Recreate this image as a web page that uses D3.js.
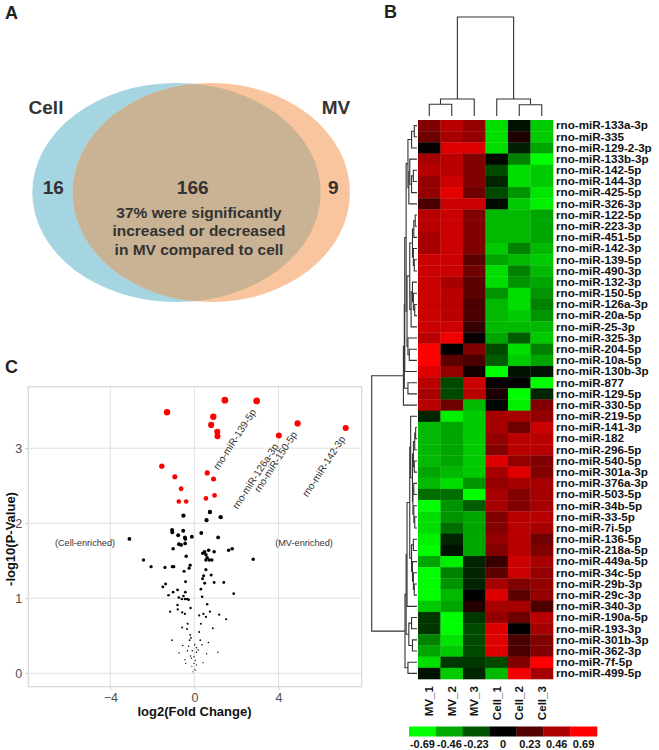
<!DOCTYPE html>
<html><head><meta charset="utf-8">
<script src="https://cdn.jsdelivr.net/npm/d3@7"></script>
<style>body{margin:0;background:#fff}svg{display:block;font-family:"Liberation Sans",Arial,Helvetica,sans-serif}</style>
</head><body><svg id="c" width="659" height="750"></svg>
<script>
// ---------- Panel A: Venn ----------
const vennSets = ["Cell", "MV"];
const vennCounts = [16, 166, 9];
const vennNote = ["37% were significantly", "increased or decreased", "in MV compared to cell"];

// ---------- Panel B: heatmap ----------
const samples = ["MV_1","MV_2","MV_3","Cell_1","Cell_2","Cell_3"];
const mirnas = ["rno-miR-133a-3p","rno-miR-335","rno-miR-129-2-3p","rno-miR-133b-3p","rno-miR-142-5p","rno-miR-144-3p","rno-miR-425-5p","rno-miR-326-3p","rno-miR-122-5p","rno-miR-223-3p","rno-miR-451-5p","rno-miR-142-3p","rno-miR-139-5p","rno-miR-490-3p","rno-miR-132-3p","rno-miR-150-5p","rno-miR-126a-3p","rno-miR-20a-5p","rno-miR-25-3p","rno-miR-325-3p","rno-miR-204-5p","rno-miR-10a-5p","rno-miR-130b-3p","rno-miR-877","rno-miR-129-5p","rno-miR-330-5p","rno-miR-219-5p","rno-miR-141-3p","rno-miR-182","rno-miR-296-5p","rno-miR-540-5p","rno-miR-301a-3p","rno-miR-376a-3p","rno-miR-503-5p","rno-miR-34b-5p","rno-miR-33-5p","rno-miR-7i-5p","rno-miR-136-5p","rno-miR-218a-5p","rno-miR-449a-5p","rno-miR-34c-5p","rno-miR-29b-3p","rno-miR-29c-3p","rno-miR-340-3p","rno-miR-190a-5p","rno-miR-193-3p","rno-miR-301b-3p","rno-miR-362-3p","rno-miR-7f-5p","rno-miR-499-5p"];
const heat = [
[0.35,0.5,0.4,-0.6,-0.05,-0.55],
[0.3,0.45,0.4,-0.6,0.08,-0.55],
[0.02,0.6,0.6,-0.6,-0.08,-0.45],
[0.45,0.5,0.35,-0.03,-0.35,-0.69],
[0.5,0.5,0.35,-0.2,-0.6,-0.55],
[0.4,0.55,0.35,-0.1,-0.6,-0.55],
[0.4,0.62,0.3,-0.2,-0.4,-0.62],
[0.2,0.55,0.55,-0.03,-0.55,-0.65],
[0.5,0.55,0.35,-0.5,-0.5,-0.45],
[0.5,0.55,0.35,-0.5,-0.5,-0.45],
[0.45,0.55,0.35,-0.5,-0.5,-0.45],
[0.45,0.55,0.35,-0.55,-0.35,-0.5],
[0.55,0.55,0.25,-0.45,-0.5,-0.55],
[0.55,0.55,0.3,-0.6,-0.35,-0.5],
[0.55,0.45,0.25,-0.6,-0.4,-0.45],
[0.55,0.5,0.25,-0.4,-0.6,-0.4],
[0.55,0.5,0.2,-0.5,-0.6,-0.35],
[0.55,0.5,0.2,-0.5,-0.55,-0.4],
[0.55,0.55,0.15,-0.5,-0.5,-0.5],
[0.5,0.65,0.02,-0.45,-0.25,-0.55],
[0.69,0,0.35,-0.2,-0.6,-0.35],
[0.69,0.25,0.2,-0.25,-0.55,-0.45],
[0.6,0.4,0.05,-0.69,-0.05,-0.05],
[0.5,-0.2,0.55,0.02,0,-0.69],
[0.45,-0.2,0.5,0.08,-0.69,-0.1],
[0.5,0.3,-0.5,-0.02,-0.65,0.35],
[-0.1,-0.65,-0.55,0.45,0.45,0.4],
[-0.5,-0.45,-0.55,0.45,0.3,0.55],
[-0.5,-0.45,-0.55,0.4,0.5,0.5],
[-0.5,-0.45,-0.55,0.35,0.5,0.5],
[-0.5,-0.45,-0.55,0.6,0.4,0.35],
[-0.45,-0.5,-0.55,0.45,0.6,0.35],
[-0.5,-0.6,-0.4,0.4,0.45,0.45],
[-0.3,-0.3,-0.69,0.45,0.35,0.45],
[-0.69,-0.4,-0.25,0.45,0.35,0.45],
[-0.6,-0.4,-0.45,0.35,0.5,0.5],
[-0.6,-0.3,-0.45,0.35,0.5,0.45],
[-0.65,-0.1,-0.45,0.4,0.5,0.3],
[-0.69,-0.05,-0.45,0.35,0.5,0.35],
[-0.45,-0.65,-0.1,0.15,0.55,0.45],
[-0.69,-0.35,-0.1,0.25,0.55,0.4],
[-0.69,-0.4,-0.1,0.45,0.35,0.4],
[-0.69,-0.5,0,0.6,0.25,0.4],
[-0.55,-0.45,0.1,0.45,0.45,0.2],
[-0.15,-0.69,-0.15,0.4,0.3,0.5],
[-0.15,-0.69,-0.2,0.6,0,0.45],
[-0.35,-0.62,-0.2,0.6,0.2,0.35],
[-0.45,-0.55,-0.2,0.6,0.2,0.35],
[-0.6,-0.15,-0.15,-0.2,0.35,0.69],
[-0.05,-0.55,-0.1,-0.5,0.65,0.45]
];
const legendTicks = [-0.69,-0.46,-0.23,0,0.23,0.46,0.69];
// column dendrogram: [height, left, right]; leaves = sample index
const colTree = [1, [0.172, [0.118, 0, 1], 2], [0.172, 3, [0.113, 4, 5]]];
// row dendrogram: [height, left, right]; leaves = row number (1-based)
const rowTree = [1,
  [0.3,
    [0.28,
      [0.27,
        [0.24,
          [0.2, [0.12,[0.06,1,2],3], [0.18,[0.16,4,[0.12,[0.08,5,6],7]],8]],
          [0.22, [0.16, [0.1,[0.07,[0.04,9,10],11],[0.08,12,[0.06,13,14]]], [0.13,[0.1,15,[0.08,16,[0.05,17,18]]],19]], [0.2,20,[0.17,21,22]]]],
        23],
      [0.2, 24, 25]],
    26],
  [0.265,
    [0.24,
      [0.22,
        [0.16, [0.14, 27, [0.1,[0.08,[0.05,[0.03,28,29],30],[0.06,31,32]],[0.09,[0.07,33,34],[0.07,35,[0.05,36,37]]]]],
               [0.12,[0.08,38,39],[0.1,40,[0.08,41,[0.06,42,43]]]]],
        44],
      [0.18,[0.12,45,46],[0.1,47,48]]],
    [0.2,49,50]]];

// ---------- Panel C: volcano ----------
const sigFC = [1.45,2.96,-1.30,0.90,0.80,1.09,1.10,4.02,4.91,7.20,-1.55,-0.93,0.61,0.91,-0.63,-0.74,-0.39,0.96,0.55];
const sigP  = [3.64,3.63,3.48,3.42,3.31,3.22,3.16,3.17,3.33,3.27,2.76,2.62,2.67,2.59,2.46,2.29,2.29,2.37,2.33];
const nsFC = [0.74,-0.52,1.25,0.58,-1.06,-1.05,-0.53,-0.77,0.33,-0.12,-0.45,-0.43,1.13,-3.09,-0.74,-0.63,-0.44,-1.01,1.63,1.80,0.68,0.49,0.40,0.94,0.55,0.61,0.71,0.83,0.55,-0.39,2.80,-2.42,-2.06,-1.40,-1.05,-0.98,-0.20,-0.25,-0.49,0.55,0.39,0.44,0.80,-1.37,-1.50,-0.42,0.49,0.94,1.40,-1.01,-0.80,-0.43,0.31,-1.23,-0.74,-0.52,-0.45,-0.34,-0.27,-0.60,0.37,1.87,0.61,-0.80,-0.79,-0.18,-1.15,-0.58,-0.45,0.23,0.43,0.74,0.55,1.18,1.51,-0.32,0.31,-0.58,-0.35,0.88,0.23,-1.06,-0.20,-0.16,-0.23,0.67,0.28,0.02,-0.55,-0.27,0.10,0.36,-0.33,-0.10,0.10,0.18,0.58,-0.73,1.12,-0.18,-0.02,-0.45,-0.14,0.04,-0.02,0.10,-0.12,0.02,-0.07,0.05,-0.41,0.41];
const nsP  = [2.15,2.10,2.08,2.04,1.91,1.88,1.90,1.84,1.87,1.82,1.81,1.79,1.81,1.79,1.72,1.71,1.73,1.66,1.64,1.66,1.64,1.62,1.60,1.62,1.58,1.54,1.51,1.51,1.51,1.56,1.52,1.51,1.42,1.41,1.42,1.42,1.44,1.40,1.36,1.38,1.26,1.30,1.31,1.19,1.15,1.22,1.20,1.21,1.21,1.08,1.11,1.08,1.12,1.04,1.01,1.03,0.99,0.99,0.98,0.99,1.02,1.06,0.92,0.91,0.85,0.87,0.82,0.81,0.79,0.77,0.79,0.82,0.75,0.78,0.72,0.66,0.66,0.61,0.59,0.60,0.55,0.44,0.51,0.47,0.44,0.41,0.44,0.38,0.37,0.36,0.34,0.38,0.30,0.30,0.28,0.31,0.26,0.27,0.28,0.23,0.22,0.18,0.20,0.17,0.13,0.11,0.09,0.05,0.02,0.04,0.13,0.14];
const labelNames = ["rno-miR-139-5p","rno-miR-126a-3p","rno-miR-150-5p","rno-miR-142-3p"];
const labelIdx = [1, 7, 8, 9]; // indices into sig arrays
const xTicks = [-4, 0, 4];
const yTicks = [0, 1, 2, 3];

// =====================================================
const svg = d3.select("#c");
const TXT = "#333";

// ---- A ----
svg.append("text").attr("x",5).attr("y",19).attr("font-size",18).attr("font-weight","bold").attr("fill","#222").text("A");
const gA = svg.append("g");
const cellE = {cx:176.5, cy:192.5, rx:144.2, ry:109.5};
const mvE = {cx:211.3, cy:192.5, rx:138.7, ry:109.5};
gA.append("ellipse").attr("cx",cellE.cx).attr("cy",cellE.cy).attr("rx",cellE.rx).attr("ry",cellE.ry).attr("fill","#a6d5e2");
gA.append("ellipse").attr("cx",mvE.cx).attr("cy",mvE.cy).attr("rx",mvE.rx).attr("ry",mvE.ry).attr("fill","#f9c59f");
const defs = svg.append("defs");
defs.append("clipPath").attr("id","cellClip").append("ellipse").attr("cx",cellE.cx).attr("cy",cellE.cy).attr("rx",cellE.rx).attr("ry",cellE.ry);
gA.append("ellipse").attr("cx",mvE.cx).attr("cy",mvE.cy).attr("rx",mvE.rx).attr("ry",mvE.ry).attr("fill","#c9b394").attr("clip-path","url(#cellClip)");
gA.append("text").attr("x",46).attr("y",114).attr("text-anchor","middle").attr("font-size",19).attr("font-weight","bold").attr("fill",TXT).text(vennSets[0]);
gA.append("text").attr("x",336).attr("y",114).attr("text-anchor","middle").attr("font-size",19).attr("font-weight","bold").attr("fill",TXT).text(vennSets[1]);
const countX = [53.3, 192.7, 333.3];
vennCounts.forEach((c,i)=>gA.append("text").attr("x",countX[i]).attr("y",193.5).attr("text-anchor","middle").attr("font-size",19).attr("font-weight","bold").attr("fill",TXT).text(c));
vennNote.forEach((t,i)=>gA.append("text").attr("x",199).attr("y",217.8+i*18.5).attr("text-anchor","middle").attr("font-size",15.5).attr("font-weight","bold").attr("fill",TXT).text(t));

// ---- B ----
svg.append("text").attr("x",384).attr("y",18).attr("font-size",18).attr("font-weight","bold").attr("fill","#222").text("B");
const hmLeft = 418, hmRight = 553, hmTop = 120, hmBottom = 679;
const xB = d3.scaleBand().domain(samples).range([hmLeft, hmRight]);
const yB = d3.scaleBand().domain(mirnas).range([hmTop, hmBottom]);
const color = d3.scaleLinear().domain([-0.69,0,0.69]).range(["#00ff00","#000000","#ff0000"]).clamp(true);
const gB = svg.append("g");
heat.forEach((row,i)=>row.forEach((v,j)=>{
  gB.append("rect").attr("x",xB(samples[j])).attr("y",yB(mirnas[i])).attr("width",xB.bandwidth()+0.3).attr("height",yB.bandwidth()+0.3).attr("fill",color(v));
}));
gB.selectAll("text.rl").data(mirnas).join("text").attr("class","rl")
  .attr("transform",d=>`translate(${hmRight+3},${yB(d)+yB.bandwidth()/2}) scale(1.1,1)`).attr("dy","0.36em")
  .attr("font-size",10.6).attr("font-weight","bold").attr("fill","#111").text(d=>d);
gB.selectAll("text.cl").data(samples).join("text").attr("class","cl")
  .attr("transform",d=>`translate(${xB(d)+xB.bandwidth()/2+4},686) rotate(-90)`)
  .attr("text-anchor","end").attr("font-size",11.6).attr("font-weight","bold").attr("fill","#111").text(d=>d);

// column dendrogram
const cy = d3.scaleLinear().domain([0,1]).range([116,17]);
function layoutCol(n){
  if(typeof n === "number") return {x: xB(samples[n])+xB.bandwidth()/2, h:0};
  const a = layoutCol(n[1]), b = layoutCol(n[2]);
  const p = cy(n[0]);
  gB.append("path").attr("d",`M${a.x},${cy(a.h)}V${p}H${b.x}V${cy(b.h)}`).attr("fill","none").attr("stroke","#333").attr("stroke-width",1.1);
  return {x:(a.x+b.x)/2, h:n[0]};
}
layoutCol(colTree);
// row dendrogram
const rx = d3.scaleLinear().domain([0,1]).range([417,371.7]);
function layoutRow(n){
  if(typeof n === "number") return {y: yB(mirnas[n-1])+yB.bandwidth()/2, h:0};
  const a = layoutRow(n[1]), b = layoutRow(n[2]);
  const p = rx(n[0]);
  gB.append("path").attr("d",`M${rx(a.h)},${a.y}H${p}V${b.y}H${rx(b.h)}`).attr("fill","none").attr("stroke","#333").attr("stroke-width",1.1);
  return {y:(a.y+b.y)/2, h:n[0]};
}
layoutRow(rowTree);

// legend
const lgX = d3.scaleBand().domain(legendTicks).range([409, 597]);
legendTicks.forEach(t=>{
  gB.append("rect").attr("x",lgX(t)).attr("y",726.5).attr("width",lgX.bandwidth()+0.3).attr("height",10).attr("fill",color(t));
  gB.append("text").attr("x",lgX(t)+lgX.bandwidth()/2).attr("y",748).attr("text-anchor","middle").attr("font-size",11).attr("font-weight","bold").attr("fill","#111").text(t===0?"0":t.toFixed(2));
});

// ---- C ----
svg.append("text").attr("x",5).attr("y",373).attr("font-size",18).attr("font-weight","bold").attr("fill","#222").text("C");
const pL=28.3, pR=361.7, pT=386.7, pB=686.7;
const xC = d3.scaleLinear().domain([-7.9,7.96]).range([pL,pR]);
const yC = d3.scaleLinear().domain([-0.18,3.82]).range([pB,pT]);
const rC = d3.scaleLinear().domain([0,3.7]).range([0.5,3.4]);
const gC = svg.append("g");
gC.append("rect").attr("x",pL).attr("y",pT).attr("width",pR-pL).attr("height",pB-pT).attr("fill","#fff");
xTicks.forEach(t=>gC.append("line").attr("x1",xC(t)).attr("x2",xC(t)).attr("y1",pT).attr("y2",pB).attr("stroke","#e0e0e0").attr("stroke-width",1));
yTicks.forEach(t=>gC.append("line").attr("x1",pL).attr("x2",pR).attr("y1",yC(t)).attr("y2",yC(t)).attr("stroke","#e0e0e0").attr("stroke-width",1));
gC.append("rect").attr("x",pL).attr("y",pT).attr("width",pR-pL).attr("height",pB-pT).attr("fill","none").attr("stroke","#d6d6d6").attr("stroke-width",1.2);
const xAx = gC.append("g").attr("transform",`translate(0,${pB})`).call(d3.axisBottom(xC).tickValues(xTicks).tickSize(3).tickFormat(d3.format("d")));
const yAx = gC.append("g").attr("transform",`translate(${pL},0)`).call(d3.axisLeft(yC).tickValues(yTicks).tickSize(3).tickFormat(d3.format("d")));
[xAx,yAx].forEach(a=>{a.select(".domain").remove(); a.selectAll("line").attr("stroke","#ccc"); a.selectAll("text").attr("fill","#4d4d4d").attr("font-size",12.5).attr("font-family","Liberation Sans, Arial");});
gC.append("text").attr("x",194.5).attr("y",715.5).attr("text-anchor","middle").attr("font-size",13).attr("font-weight","bold").attr("fill","#111").text("log2(Fold Change)");
gC.append("text").attr("transform","translate(14.5,539) rotate(-90)").attr("text-anchor","middle").attr("font-size",13).attr("font-weight","bold").attr("fill","#111").text("-log10(P-Value)");
gC.append("text").attr("x",85).attr("y",545.5).attr("text-anchor","middle").attr("font-size",9.2).attr("fill","#333").text("(Cell-enriched)");
gC.append("text").attr("x",304).attr("y",545.5).attr("text-anchor","middle").attr("font-size",9.2).attr("fill","#333").text("(MV-enriched)");
nsFC.forEach((f,i)=>gC.append("circle").attr("cx",xC(f)).attr("cy",yC(nsP[i])).attr("r",rC(nsP[i])).attr("fill","#000"));
sigFC.forEach((f,i)=>gC.append("circle").attr("cx",xC(f)).attr("cy",yC(sigP[i])).attr("r",rC(sigP[i])).attr("fill","#ff0000"));
labelIdx.forEach((k,i)=>{
  const px = xC(sigFC[k]), py = yC(sigP[k]);
  gC.append("text").attr("transform",`translate(${px-3},${py+9}) rotate(-57)`).attr("text-anchor","end").attr("dy","0.35em")
    .attr("font-size",10).attr("fill","#333").text(labelNames[i]);
});
</script></body></html>
